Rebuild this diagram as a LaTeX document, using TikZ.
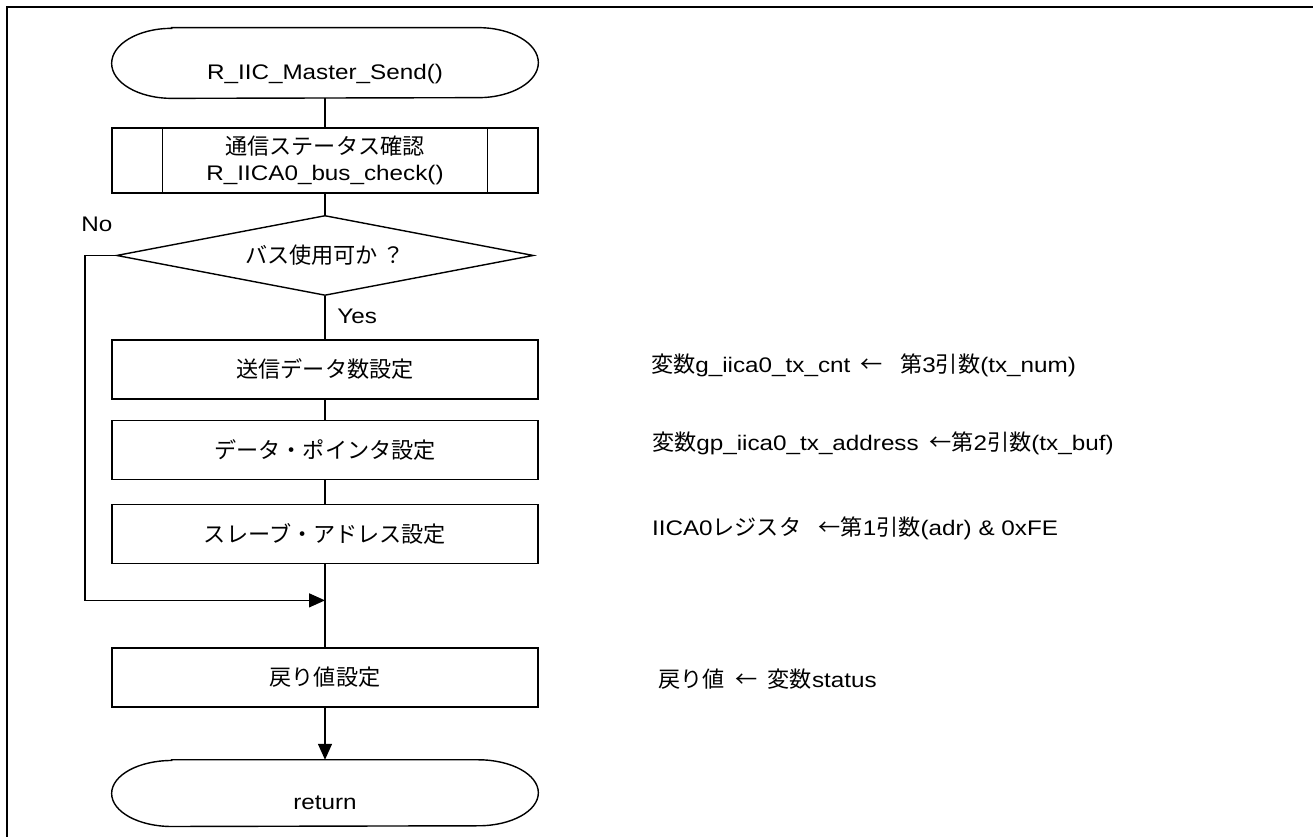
\documentclass[tikz,border=0pt]{standalone}
\usepackage{fontspec}
\setmainfont{Liberation Sans}[FakeStretch=1.15]
\newfontfamily\jp{Noto Sans CJK JP}[Scale=1.05]
\usepackage{tikz}
\usetikzlibrary{arrows.meta,positioning,shapes.geometric}

\begin{document}
\begin{tikzpicture}[
    font=\fontsize{12pt}{15pt}\selectfont,
    line/.style={draw=black, line width=0.8pt},
    % 端子：外形在后面用椭圆弧单独画
    term/.style={rectangle, minimum width=8.52cm, inner sep=0pt, text height=0.64cm, text depth=0pt},
    proc/.style={rectangle, draw=black, line width=0.8pt, minimum width=8.52cm, minimum height=1.18cm, inner sep=0pt, align=center},
    subproc/.style={proc, minimum height=1.3cm},
    decision/.style={diamond, draw=black, line width=0.8pt, minimum width=8.34cm, minimum height=1.6cm, aspect=5.2, inner sep=0pt},
    lbl/.style={inner sep=0pt},
    note/.style={inner sep=0pt, anchor=west},
    arrow/.style={line, -{Triangle[length=0.32cm, width=0.28cm]}}
]
\useasboundingbox (0,0) rectangle (26.26,-16.74);

% 外框 (只露出上边和左边)
\draw[line width=1.1pt] (0.14,-16.74) -- (0.14,-0.14) -- (26.26,-0.14);

% 主干流程 (中列)
\node[term, minimum height=1.4cm] (start) at (6.5,-1.26) {R\_IIC\_Master\_Send()};
\node[subproc, below=0.58cm of start] (sub) {{\jp 通信ステータス確認}\\R\_IICA0\_bus\_check()};
\node[decision, below=0.42cm of sub] (dia) {{\jp バス使用可か ？}};
\node[proc, below=0.86cm of dia] (box1) {{\jp 送信データ数設定}};
\node[proc, below=0.40cm of box1] (box2) {{\jp データ・ポインタ設定}};
\node[proc, below=0.48cm of box2] (box3) {{\jp スレーブ・アドレス設定}};
\node[proc, below=1.66cm of box3] (box4) {{\jp 戻り値設定}};
\node[term, minimum height=1.32cm, below=1.04cm of box4] (ret) {return};

% 端子外形
\foreach \t/\ry in {start/0.7cm, ret/0.66cm}{
  \draw[line] ([xshift=1.2cm]\t.north west) -- ([xshift=-1.2cm]\t.north east)
    arc[start angle=90, end angle=-90, x radius=1.2cm, y radius=\ry]
    -- ([xshift=1.2cm]\t.south west)
    arc[start angle=270, end angle=90, x radius=1.2cm, y radius=\ry] -- cycle;
}

% 子程序框两侧竖线
\draw[line] ([xshift=1.02cm]sub.north west) -- ([xshift=1.02cm]sub.south west);
\draw[line] ([xshift=-1.02cm]sub.north east) -- ([xshift=-1.02cm]sub.south east);

% 中列连线
\draw[line] (start) -- (sub);
\draw[line] (sub) -- (dia);
\draw[line] (dia) -- (box1);
\draw[line] (box1) -- (box2);
\draw[line] (box2) -- (box3);
\draw[line] (box3) -- (box4);
\draw[arrow] (box4) -- (ret);

% No 分支：向左探出再向下，汇合到主干
\coordinate[below=0.72cm of box3.south] (join);
\coordinate (nobend) at ([xshift=-0.62cm]dia.west);
\draw[arrow] (dia.west) -- (nobend) |- (join);

\node[lbl, above left=0.46cm and 0.06cm of dia.west] (no) {No};
\node[lbl, below right=0.24cm and 0.24cm of dia.south] (yes) {Yes};

% 右侧说明
\node[note, right=2.24cm of box1, yshift=0.09cm] (n1) {{\jp 変数}g\_iica0\_tx\_cnt\enspace{\jp ←}\enspace\ {\jp 第}3{\jp 引数}(tx\_num)};
\node[note, right=2.26cm of box2, yshift=0.13cm] (n2) {{\jp 変数}gp\_iica0\_tx\_address\enspace{\jp ←第}2{\jp 引数}(tx\_buf)};
\node[note, right=2.26cm of box3, yshift=0.12cm] (n3) {IICA0{\jp レジスタ}\enspace\ {\jp ←第}1{\jp 引数}(adr) \& 0xFE};
\node[note, right=2.38cm of box4, yshift=-0.03cm] (n4) {{\jp 戻り値}\enspace{\jp ←}\enspace{\jp 変数}status};

\end{tikzpicture}
\end{document}
